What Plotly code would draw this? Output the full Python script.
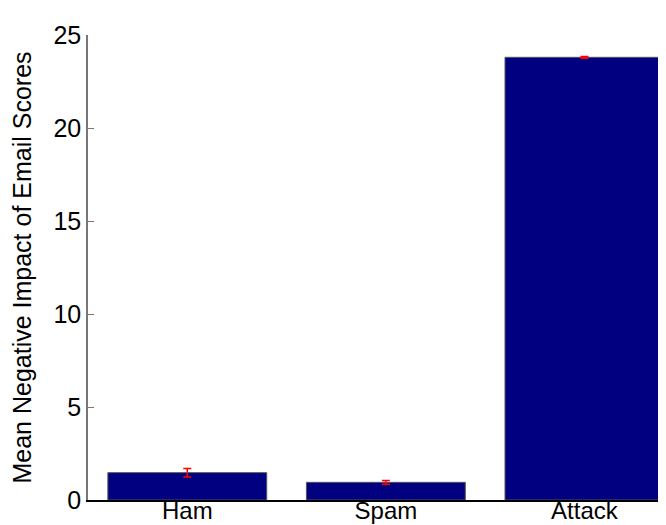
import plotly.graph_objects as go

categories = ["Ham", "Spam", "Attack"]
means = [1.47, 0.95, 23.8]
errors = [0.23, 0.1, 0.05]
yticks = [0, 5, 10, 15, 20, 25]

fig = go.Figure()
fig.add_trace(go.Bar(
    x=categories, y=means, width=0.8,
    marker=dict(color="#000080", line=dict(color="#555555", width=1)),
    error_y=dict(type="data", array=errors, visible=True, color="red", thickness=1.5, width=4),
))
fig.update_layout(
    width=666, height=525,
    margin=dict(l=80, r=0, t=27, b=33),
    paper_bgcolor="white", plot_bgcolor="white",
    font=dict(family="Liberation Sans, Arial, sans-serif", size=24, color="black"),
    showlegend=False,
    xaxis=dict(range=[-0.5, 2.451], showline=True, linecolor="black", linewidth=1.5,
               ticks="", automargin=False, showgrid=False, zeroline=False,
               ticklabelstandoff=-12, tickfont=dict(size=24)),
    yaxis=dict(range=[0, 25], tickvals=yticks, showline=True, linecolor="#777777", linewidth=1.5,
               ticks="inside", ticklen=6, tickcolor="#777777", automargin=False,
               showgrid=False, zeroline=False, tickfont=dict(size=25),
               title=dict(text="Mean Negative Impact of Email Scores", standoff=16, font=dict(size=25))),
)
fig.write_html("out.html")
